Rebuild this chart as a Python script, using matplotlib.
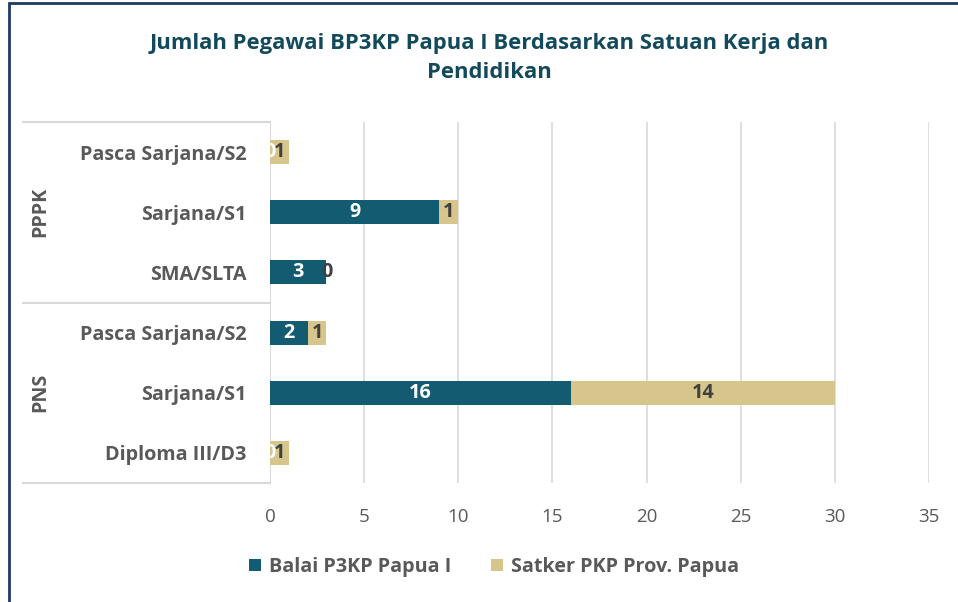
import numpy as np
import matplotlib.pyplot as plt
from matplotlib.patches import Rectangle
from matplotlib.transforms import blended_transform_factory

# ── Data ──────────────────────────────────────────────────────────────────────
TITLE = "Jumlah Pegawai BP3KP Papua I Berdasarkan Satuan Kerja dan\nPendidikan"
groups = ["PPPK", "PNS"]
categories = ["Pasca Sarjana/S2", "Sarjana/S1", "SMA/SLTA",
              "Pasca Sarjana/S2", "Sarjana/S1", "Diploma III/D3"]
group_of = [0, 0, 0, 1, 1, 1]
balai = [0, 9, 3, 2, 16, 0]
satker = [1, 1, 0, 1, 14, 1]
series_names = ["Balai P3KP Papua I", "Satker PKP Prov. Papua"]
xticks = [0, 5, 10, 15, 20, 25, 30, 35]

# ── Style ─────────────────────────────────────────────────────────────────────
C_BALAI = "#135B70"
C_SATKER = "#D6C68C"
C_TEXT = "#595959"
C_TITLE = "#124A5C"
C_GRID = "#D9D9D9"
FONT = "Open Sans"
FS_LABEL = 14.2
# ──────────────────────────────────────────────────────────────────────────────

plt.rcParams["font.family"] = [FONT, "DejaVu Sans"]

fig = plt.figure(figsize=(9.58, 6.02), dpi=100)
ax = fig.add_axes([270 / 958, 1 - 483 / 602, 659 / 958, 361 / 602])

y = np.arange(len(categories))
h = 0.4
ax.barh(y, balai, height=h, color=C_BALAI, label=series_names[0], zorder=3)
ax.barh(y, satker, left=balai, height=h, color=C_SATKER, label=series_names[1], zorder=3)

ax.set_xlim(0, 35)
ax.set_ylim(len(categories) - 0.5, -0.5)
ax.set_xticks(xticks)
ax.set_xticklabels([str(t) for t in xticks], fontsize=13.5, color=C_TEXT)
ax.tick_params(axis="x", length=0, pad=18)
ax.set_yticks(y)
ax.set_yticklabels(categories, fontsize=FS_LABEL, fontweight="bold", color=C_TEXT)
ax.tick_params(axis="y", length=0, pad=17)
ax.grid(axis="x", color=C_GRID, lw=1.2, zorder=0)
for s in ax.spines.values():
    s.set_visible(False)
ax.axvline(0, color=C_GRID, lw=1.2, zorder=2)

# data labels (zero values overlap like in the original)
for i in range(len(categories)):
    ax.text(balai[i] / 2, y[i], str(balai[i]), ha="center", va="center",
            fontsize=FS_LABEL, fontweight="bold", color="white", zorder=4)
    ax.text(balai[i] + satker[i] / 2, y[i], str(satker[i]), ha="center", va="center",
            fontsize=FS_LABEL, fontweight="bold", color="#404040", zorder=4)

# multi-level category axis lines and group labels
tr = blended_transform_factory(ax.transAxes, ax.transData)
x_left = (23 - 270) / 659
for yy in [-0.5, 2.5, 5.5]:
    ax.plot([x_left, 0], [yy, yy], color=C_GRID, lw=1.5, transform=tr, clip_on=False)
for g, name in enumerate(groups):
    rows = [i for i in range(len(categories)) if group_of[i] == g]
    ax.text((40 - 270) / 659, np.mean(rows), name, transform=tr, rotation=90,
            ha="center", va="center", fontsize=FS_LABEL, fontweight="bold", color=C_TEXT)

fig.text(489 / 958, 1 - 58 / 602, TITLE, ha="center", va="center", fontsize=15.8,
         fontweight="bold", color=C_TITLE, linespacing=1.5)

leg = fig.legend(loc="center", bbox_to_anchor=(494 / 958, 1 - 567 / 602), ncol=2,
                 frameon=False, handlelength=0.6, handleheight=0.6, handletextpad=0.4,
                 columnspacing=2.0, prop={"size": FS_LABEL, "weight": "bold"})
for t in leg.get_texts():
    t.set_color(C_TEXT)

# outer chart border
fig.patches.append(Rectangle((9 / 958, -0.05), 1.2, 1 - 3 / 602 + 0.05, transform=fig.transFigure,
                             fill=False, edgecolor="#1F3864", lw=2))

fig.savefig("out.png", dpi=100)
